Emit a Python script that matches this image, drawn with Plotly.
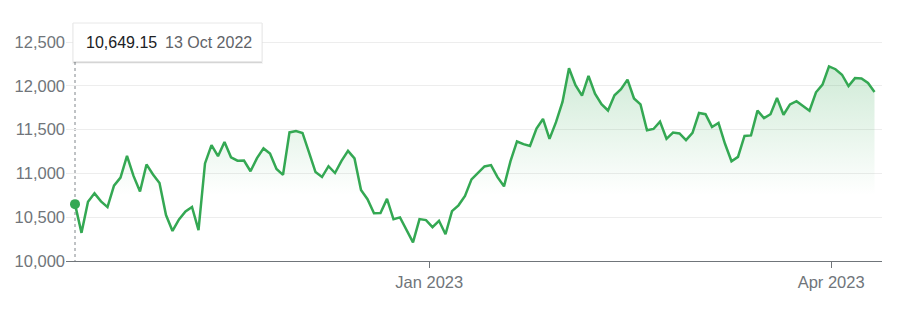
import plotly.graph_objects as go
from datetime import datetime

# ---- data ----
dates = [
    "2022-10-13", "2022-10-14", "2022-10-17", "2022-10-18", "2022-10-19", "2022-10-20", "2022-10-21",
    "2022-10-24", "2022-10-25", "2022-10-26", "2022-10-27", "2022-10-28", "2022-10-31",
    "2022-11-01", "2022-11-02", "2022-11-03", "2022-11-04", "2022-11-07", "2022-11-08", "2022-11-09",
    "2022-11-10", "2022-11-11", "2022-11-14", "2022-11-15", "2022-11-16", "2022-11-17", "2022-11-18",
    "2022-11-21", "2022-11-22", "2022-11-23", "2022-11-25", "2022-11-28", "2022-11-29", "2022-11-30",
    "2022-12-01", "2022-12-02", "2022-12-05", "2022-12-06", "2022-12-07", "2022-12-08", "2022-12-09",
    "2022-12-12", "2022-12-13", "2022-12-14", "2022-12-15", "2022-12-16", "2022-12-19", "2022-12-20",
    "2022-12-21", "2022-12-22", "2022-12-23", "2022-12-27", "2022-12-28", "2022-12-29", "2022-12-30",
    "2023-01-03", "2023-01-04", "2023-01-05", "2023-01-06", "2023-01-09", "2023-01-10", "2023-01-11",
    "2023-01-12", "2023-01-13", "2023-01-17", "2023-01-18", "2023-01-19", "2023-01-20", "2023-01-23",
    "2023-01-24", "2023-01-25", "2023-01-26", "2023-01-27", "2023-01-30", "2023-01-31",
    "2023-02-01", "2023-02-02", "2023-02-03", "2023-02-06", "2023-02-07", "2023-02-08", "2023-02-09",
    "2023-02-10", "2023-02-13", "2023-02-14", "2023-02-15", "2023-02-16", "2023-02-17", "2023-02-21",
    "2023-02-22", "2023-02-23", "2023-02-24", "2023-02-27", "2023-02-28",
    "2023-03-01", "2023-03-02", "2023-03-03", "2023-03-06", "2023-03-07", "2023-03-08", "2023-03-09",
    "2023-03-10", "2023-03-13", "2023-03-14", "2023-03-15", "2023-03-16", "2023-03-17", "2023-03-20",
    "2023-03-21", "2023-03-22", "2023-03-23", "2023-03-24", "2023-03-27", "2023-03-28", "2023-03-29",
    "2023-03-30", "2023-03-31",
    "2023-04-03", "2023-04-04", "2023-04-05", "2023-04-06", "2023-04-10", "2023-04-11", "2023-04-12",
]

values = [
    10649.15, 10321.39, 10675.80, 10772.40, 10680.51, 10614.84, 10859.72,
    10952.61, 11199.12, 10970.99, 10792.68, 11102.45, 10988.15,
    10890.85, 10524.80, 10342.94, 10475.25, 10564.52, 10616.20, 10353.17,
    11114.15, 11323.33, 11196.22, 11358.41, 11183.66, 11144.96, 11146.06,
    11024.51, 11174.41, 11285.32, 11226.36, 11049.50, 10983.78, 11468.00,
    11482.45, 11461.50, 11239.94, 11014.89, 10958.55, 11082.00, 11004.62,
    11143.74, 11256.81, 11170.89, 10810.53, 10705.41, 10546.03, 10547.11,
    10709.37, 10476.12, 10497.86, 10353.23, 10213.29, 10478.09, 10466.48,
    10386.98, 10458.76, 10305.24, 10569.29, 10635.65, 10742.63, 10931.67,
    11001.10, 11079.16, 11095.11, 10957.01, 10852.27, 11140.43, 11364.41,
    11334.27, 11313.36, 11512.41, 11621.71, 11393.81, 11584.55,
    11816.32, 12200.82, 12006.95, 11887.45, 12113.79, 11910.52, 11789.58,
    11718.12, 11891.79, 11960.15, 12070.59, 11855.83, 11787.27, 11492.30,
    11507.07, 11590.40, 11394.94, 11466.98, 11455.54,
    11379.48, 11462.98, 11689.01, 11675.74, 11530.33, 11576.00, 11338.36,
    11138.89, 11188.84, 11428.15, 11434.05, 11717.28, 11630.51, 11675.54,
    11860.11, 11669.96, 11787.40, 11823.96, 11768.84, 11716.08, 11926.24,
    12013.47, 12221.91,
    12189.45, 12126.33, 11996.86, 12087.96, 12084.36, 12031.88, 11929.34,
]

y_ticks = [10000, 10500, 11000, 11500, 12000, 12500]
x_tick_dates = ["2023-01-01", "2023-04-01"]
x_tick_labels = ["Jan 2023", "Apr 2023"]

# ---- derived positions (trading-day index axis) ----
dts = [datetime.strptime(d, "%Y-%m-%d") for d in dates]
idx = list(range(len(dts)))


def date_pos(s):
    t = datetime.strptime(s, "%Y-%m-%d")
    for i in range(len(dts) - 1):
        if dts[i] <= t < dts[i + 1]:
            return i + (t - dts[i]).total_seconds() / (dts[i + 1] - dts[i]).total_seconds()
    return len(dts) - 1


x_tick_vals = [date_pos(s) for s in x_tick_dates]

GREEN = "#34a853"
FONT = "Arial, Liberation Sans, sans-serif"

W, H = 904, 320
ML, MR, MT, MB = 66, 22, 0, 59
plot_h = H - MT - MB
y_min, y_top_tick = y_ticks[0], y_ticks[-1]
px_per_unit = 219 / (y_top_tick - y_min)
y_max = y_min + plot_h / px_per_unit

fig = go.Figure()

fig.add_trace(go.Scatter(
    x=idx, y=values, mode="lines",
    line=dict(color=GREEN, width=2.5),
    fill="tozeroy",
    fillgradient=dict(
        type="vertical", start=10750, stop=12250,
        colorscale=[[0, "rgba(52,168,83,0)"], [1, "rgba(52,168,83,0.24)"]],
    ),
    hoverinfo="skip",
))

fig.add_trace(go.Scatter(
    x=[idx[0]], y=[values[0]], mode="markers",
    marker=dict(color=GREEN, size=10),
    hoverinfo="skip",
))

# dotted guide line from tooltip to axis
fig.add_shape(type="line", xref="x", yref="y", x0=idx[0], x1=idx[0],
              ysizemode="pixel", yanchor=y_top_tick, y0=-20, y1=-219,
              line=dict(color="#80868b", width=1, dash="dot"), layer="below")

# tooltip box with soft shadow
for dx0, dx1, dy0, dy1, col in [(-3, 188, -22, 19, "rgba(0,0,0,0.04)"),
                                (-2, 187, -21, 19, "rgba(0,0,0,0.08)"),
                                (-2, 187, -20.5, 19, "rgba(0,0,0,0.10)")]:
    fig.add_shape(type="rect", xref="x", yref="y",
                  xsizemode="pixel", xanchor=idx[0], x0=dx0, x1=dx1,
                  ysizemode="pixel", yanchor=y_top_tick, y0=dy0, y1=dy1,
                  line=dict(width=0), fillcolor=col, layer="above")
fig.add_shape(type="rect", xref="x", yref="y",
              xsizemode="pixel", xanchor=idx[0], x0=-2, x1=187,
              ysizemode="pixel", yanchor=y_top_tick, y0=-19.5, y1=19,
              line=dict(color="#e8e8e8", width=1), fillcolor="white", layer="above")

val_text = f"{values[0]:,.2f}"
date_text = f"{dts[0].day} {dts[0].strftime('%b %Y')}"
fig.add_annotation(x=idx[0], y=y_top_tick, xref="x", yref="y", text=val_text,
                   showarrow=False, xanchor="left", yanchor="middle", xshift=9,
                   font=dict(family=FONT, size=16, color="#202124"))
fig.add_annotation(x=idx[0], y=y_top_tick, xref="x", yref="y", text=date_text,
                   showarrow=False, xanchor="left", yanchor="middle", xshift=88,
                   font=dict(family=FONT, size=16, color="#5f6368"))

fig.update_layout(
    width=W, height=H,
    margin=dict(l=ML, r=MR, t=MT, b=MB),
    paper_bgcolor="white", plot_bgcolor="white",
    showlegend=False, hovermode=False,
    font=dict(family=FONT, size=16.5, color="#70757a"),
    xaxis=dict(
        range=[-9 / 6.5, len(idx) - 1 + 7.5 / 6.5],
        tickvals=x_tick_vals, ticktext=x_tick_labels,
        showgrid=False, zeroline=False,
        showline=True, linecolor="#70757a", linewidth=1,
        ticks="outside", ticklen=6, tickcolor="#70757a", tickwidth=1,
        tickfont=dict(family=FONT, size=16.5, color="#70757a"),
        fixedrange=True,
    ),
    yaxis=dict(
        range=[y_min, y_max],
        tickvals=y_ticks, ticktext=[f"{v:,}" for v in y_ticks],
        showgrid=True, gridcolor="#ededed", gridwidth=1,
        zeroline=False, showline=False, ticks="",
        tickfont=dict(family=FONT, size=16.5, color="#70757a"),
        fixedrange=True,
    ),
)

fig.write_html("out.html", config={"displayModeBar": False})
